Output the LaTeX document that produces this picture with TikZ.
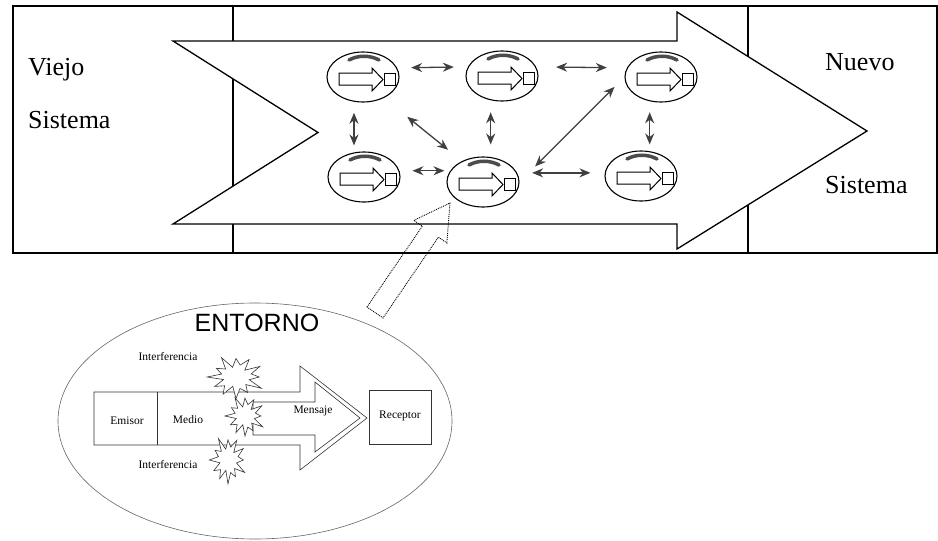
\documentclass[tikz,border=0pt]{standalone}
\usepackage{fontspec}
\setmainfont{Liberation Serif}
\setsansfont{Liberation Sans}
\usetikzlibrary{arrows.meta,shapes.geometric}

\tikzset{
  unit/.style={draw,ellipse,minimum width=72pt,minimum height=50pt,
    line width=1.1pt,inner sep=0pt},
  link/.style={<->,>={Stealth[length=11pt,width=9pt]},
    line width=1.3pt,black!75},
  big/.style={font=\fontsize{26}{30}\selectfont,anchor=base west,inner sep=0pt},
  small/.style={font=\fontsize{11.5}{13}\selectfont,inner sep=1pt},
  burst/.style={draw=black!80,fill=white,line width=0.6pt},
  mini/.pic={
    \draw[line width=3.5pt,black!70,line cap=round]
      (-14,-17) .. controls (-5,-22) and (7,-22) .. (16,-17);
    \draw[line width=1pt] (-24,-4) -- (9,-4) -- (9,-9) -- (20,2.5)
      -- (9,14) -- (9,8) -- (-24,8) -- cycle;
    \draw[line width=1pt] (21,-4) rectangle (32,8);
  }
}

\begin{document}
\begin{tikzpicture}[x=1pt,y=-1pt]
  \useasboundingbox (0,0) rectangle (938,541);

  % frame of the two systems
  \draw[line width=1.1pt] (13,6) rectangle (937,253);
  \draw[line width=1.1pt] (233,6) -- (233,253);
  \draw[line width=1.1pt] (748,6) -- (748,253);

  % big transition arrow
  \draw[line width=1.3pt,fill=white] (173,41) -- (677,41) -- (677,12)
    -- (867,131) -- (677,249) -- (677,224) -- (173,224) -- (318,132.5)
    -- cycle;

  \node[big] (viejo) at (28,75) {Viejo};
  \node[big] (sisv) at (28,128) {Sistema};
  \node[big] (nuevo) at (825,70) {Nuevo};
  \node[big] (sisn) at (825,193) {Sistema};

  % communication units
  \node[unit] (t1) at (363,77) {};
  \node[unit] (t2) at (502,76) {};
  \node[unit] (t3) at (661,77) {};
  \node[unit] (b1) at (364,177) {};
  \node[unit] (b2) at (483,182) {};
  \node[unit] (b3) at (641,176) {};
  \foreach \u in {t1,t2,t3,b1,b2,b3}
    \pic at (\u) {mini};

  \draw[link,shorten <=14pt,shorten >=14pt] (t1.15) -- (t2.165);
  \draw[link,shorten <=20pt,shorten >=20pt] (t2.15) -- (t3.165);
  \draw[link,shorten <=11pt,shorten >=6pt] (t1.-110) -- (t1.-110 |- b1.north);
  \draw[link,shorten <=12pt,shorten >=12pt] (t2.-115) -- (t2.-115 |- b2.north);
  \draw[link,shorten <=11pt,shorten >=6pt] (t3.-115) -- (t3.-115 |- b3.north);
  \draw[link,shorten <=30pt,shorten >=18pt] (t1.-45) -- (b2.135);
  \draw[link,shorten <=13pt,shorten >=2pt] (b1.10) -- (b1.10 -| b2.west);
  \draw[link,shorten <=15pt,shorten >=14pt] (b2.15) -- (b2.15 -| b3.west);
  \draw[link,shorten <=22pt,shorten >=14pt] (b2.east) -- (t3.west);

  % zoom arrow
  \begin{scope}[shift={(375,312.5)},rotate=55.6]
    \draw[densely dotted,line width=0.9pt] (0,-9.7) -- (98,-9.7) -- (98,-20)
      -- (132.7,0) -- (98,20) -- (98,9.7) -- (0,9.7) -- cycle;
  \end{scope}

  % environment of one unit
  \node[draw=black!60,line width=0.6pt,ellipse,minimum width=394pt,
    minimum height=236pt,inner sep=0pt] (entorno) at (255,421) {};
  \node[font=\sffamily\fontsize{25}{28}\selectfont,inner sep=0pt]
    (lentorno) at (257,323) {ENTORNO};

  \draw[line width=0.6pt,black!80] (94,392) -- (300,392) -- (300,366)
    -- (367,418) -- (300,470) -- (300,445) -- (94,445) -- cycle;
  \draw[line width=0.6pt,black!80] (157,392) -- (157,445);
  \draw[line width=0.6pt,black!80] (253,402) -- (315,402) -- (315,382)
    -- (360,418) -- (315,452) -- (315,435) -- (253,435) -- cycle;
  \node[draw=black!80,line width=0.6pt,minimum width=62pt,minimum height=54pt,
    inner sep=0pt] (receptor) at (400,417) {};

  % interference bursts
  \foreach \cx/\cy/\rx/\ry in {236/377/26/20,245/416/18/19,228/460/17/22}
    \draw[burst] plot[samples at={0,15,...,345},variable=\t]
      ({\cx+\rx*(0.55+0.45*(mod(\t,30)==0))*(1+0.13*sin(7*\t+\cx))*cos(\t)},
       {\cy+\ry*(0.55+0.45*(mod(\t,30)==0))*(1+0.13*sin(7*\t+\cx))*sin(\t)})
      -- cycle;

  \node[small] (linf1) at (168,357) {Interferencia};
  \node[small] (linf2) at (168,465) {Interferencia};
  \node[small] (lemisor) at (127,421) {Emisor};
  \node[small] (lmedio) at (188,420) {Medio};
  \node[small] (lmensaje) at (313,411) {Mensaje};
  \node[small] (lreceptor) at (400,416) {Receptor};
\end{tikzpicture}
\end{document}
